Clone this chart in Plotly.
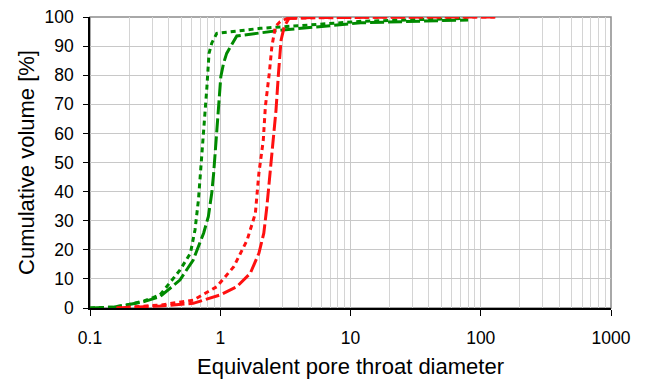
import plotly.graph_objects as go

# Green long-dash series
g1_x = [0.1, 0.15, 0.19, 0.26, 0.345, 0.49, 0.62, 0.745, 0.81, 0.86, 0.89, 0.915, 0.94, 0.97, 1.01, 1.06, 1.12, 1.34, 3.0, 12, 40, 80]
g1_y = [0, 0.3, 1, 2.2, 3.9, 9.6, 16.5, 25.7, 31.4, 39.4, 46.3, 54.3, 62.3, 71.5, 79.5, 84.1, 87.5, 93.5, 95.5, 98, 98.6, 99]
# Green dotted series
g2_x = [0.1, 0.15, 0.19, 0.26, 0.345, 0.49, 0.59, 0.64, 0.68, 0.72, 0.75, 0.79, 0.82, 0.86, 0.94, 1.34, 2.03, 5, 12, 40, 78]
g2_y = [0, 0.3, 1, 2.4, 4.5, 13, 18.8, 26.8, 37.1, 50.9, 62.3, 76, 87.5, 91, 94.4, 95.3, 96.1, 97.3, 98.5, 99.2, 99.5]
# Red long-dash series
r1_x = [0.16, 0.345, 0.62, 1.0, 1.34, 1.70, 1.98, 2.16, 2.28, 2.42, 2.57, 2.68, 2.80, 2.93, 3.1, 3.37, 5, 20, 60, 130]
r1_y = [0, 0.7, 1.6, 4.5, 7.3, 11.9, 18.8, 25.7, 34.8, 46.3, 57.7, 68, 80.7, 92, 96.7, 99.5, 99.8, 100, 100, 100]
# Red dotted series
r2_x = [0.16, 0.345, 0.62, 0.94, 1.27, 1.61, 1.86, 1.98, 2.14, 2.22, 2.38, 2.49, 2.65, 2.88, 3.3, 6, 20, 60, 130]
r2_y = [0, 1, 2.7, 7.3, 14.2, 23.4, 32.5, 46.3, 57.7, 69.2, 80.7, 89.8, 96.7, 98.4, 99.6, 99.8, 100, 100, 100]

x_major = [0.1, 1, 10, 100, 1000]
x_labels = ["0.1", "1", "10", "100", "1000"]
x_minor = [m * d for d in [0.1, 1, 10, 100] for m in range(2, 10)]
y_ticks = list(range(0, 101, 10))

GREEN = "#008a00"
RED = "#ff1010"

fig = go.Figure()
fig.add_trace(go.Scatter(x=g1_x, y=g1_y, mode="lines", line=dict(color=GREEN, width=3, dash="14px,4px")))
fig.add_trace(go.Scatter(x=g2_x, y=g2_y, mode="lines", line=dict(color=GREEN, width=3, dash="5px,4px")))
fig.add_trace(go.Scatter(x=r1_x, y=r1_y, mode="lines", line=dict(color=RED, width=3, dash="14px,4px")))
fig.add_trace(go.Scatter(x=r2_x, y=r2_y, mode="lines", line=dict(color=RED, width=3, dash="5px,4px")))

fig.add_shape(type="rect", xref="paper", yref="paper", x0=0, x1=1, y0=0, y1=1,
              line=dict(color="#8c8c8c", width=1.5), layer="below")

font = "Liberation Sans, Arial, sans-serif"
fig.update_layout(
    width=647, height=380,
    margin=dict(l=90, r=36, t=17, b=72),
    paper_bgcolor="white", plot_bgcolor="white",
    showlegend=False,
    font=dict(family=font, color="black", size=17),
    xaxis=dict(
        type="log", range=[-1, 3], automargin=False,
        tickvals=x_major, ticktext=x_labels,
        ticks="outside", ticklen=6, tickcolor="black",
        ticklabelstandoff=7,
        showline=True, linecolor="black", linewidth=1.5,
        showgrid=True, gridcolor="#c8c8c8", gridwidth=1,
        minor=dict(tickvals=x_minor, showgrid=True, gridcolor="#d4d4d4", gridwidth=1, ticks=""),
        title=dict(text="Equivalent pore throat diameter", font=dict(size=22), standoff=12),
        tickfont=dict(size=17.5), zeroline=False,
    ),
    yaxis=dict(
        range=[0, 100], tickvals=y_ticks, automargin=False,
        ticks="outside", ticklen=5, tickcolor="black",
        ticklabelstandoff=6,
        showline=True, linecolor="black", linewidth=1.5,
        showgrid=True, gridcolor="#c8c8c8", gridwidth=1,
        title=dict(text="Cumulative volume [%]", font=dict(size=22), standoff=4),
        tickfont=dict(size=17.5), zeroline=False,
    ),
)

fig.write_html("out.html")
